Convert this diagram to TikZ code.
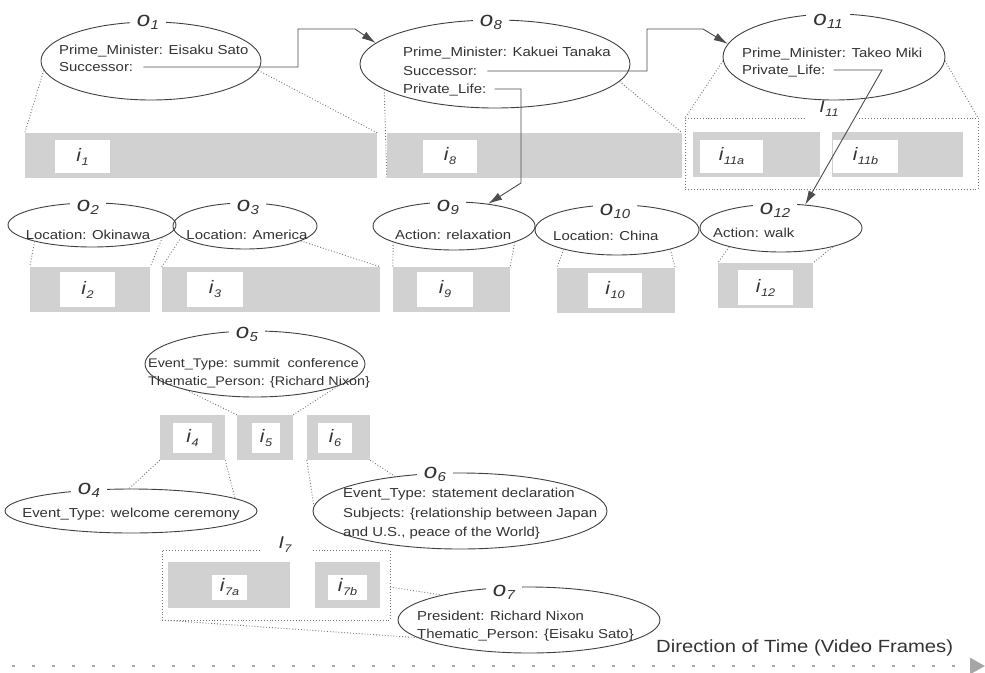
\documentclass[tikz,border=0pt]{standalone}
\usepackage{fontspec}
\setmainfont{Liberation Sans}[FakeStretch=1.15]
\usetikzlibrary{shapes.geometric,arrows.meta}
\newcommand{\olab}[1]{{\fontsize{21}{21}\selectfont\itshape o\kern0.3pt\raisebox{-3pt}{\fontsize{13}{13}\selectfont #1}}}
\newcommand{\ilab}[1]{{\fontsize{18}{18}\selectfont\itshape i\kern0.5pt\raisebox{-4pt}{\fontsize{11}{11}\selectfont #1}}}
\newcommand{\Ilab}[1]{{\fontsize{17}{17}\selectfont\itshape I\kern0.5pt\raisebox{-4pt}{\fontsize{11}{11}\selectfont #1}}}
\tikzset{
 obj/.style={ellipse, draw=black!75, line width=0.9pt, inner sep=0pt},
 olabel/.style={fill=white, inner xsep=7pt, inner ysep=3pt, text=black!80},
 attr/.style={anchor=base west, inner sep=0pt, text=black!80, font=\fontsize{13}{15}\selectfont},
 attrc/.style={attr, anchor=base},
 attrs/.style={attr, font=\fontsize{12.5}{15}\selectfont},
 ibar/.style={fill=black!18, draw=none, inner sep=0pt, minimum height=45pt},
 ibox/.style={fill=white, draw=none, inner sep=0pt, text=black!80},
 groupline/.style={draw=black!55, dotted, line width=0.9pt},
 glabel/.style={inner sep=0pt, text=black!80},
 mapline/.style={dotted, line width=0.9pt, black!55},
 conn/.style={line width=0.9pt, black!70, -{Latex[length=14pt,width=8pt]}},
 timeline/.style={line width=2.5pt, black!35, dash pattern=on 3pt off 17pt, -{Triangle[length=15pt,width=16pt]}},
}
\begin{document}
\begin{tikzpicture}[x=1pt,y=-1pt]
\fill[white] (0,0) rectangle (985,672);
\useasboundingbox (0,0) rectangle (985,672);

% ---- bars (row 1)
\node[ibar, minimum width=352pt] (i1bar) at (201,155.5) {};
\node[ibox, minimum width=55pt, minimum height=33pt] (i1) at (82.5,156.5) {\ilab{1}};
\node[ibar, minimum width=295pt] (i8bar) at (534.5,155.5) {};
\node[ibox, minimum width=54pt, minimum height=33pt] (i8) at (450,156.5) {\ilab{8}};
\node[ibar, minimum width=127pt] (i11abar) at (756.5,154.5) {};
\node[ibox, minimum width=63pt, minimum height=33pt] (i11a) at (731.5,156.5) {\ilab{11a}};
\node[ibar, minimum width=131pt] (i11bbar) at (897.5,154.5) {};
\node[ibox, minimum width=65pt, minimum height=33pt] (i11b) at (865.5,156.5) {\ilab{11b}};
\coordinate (I11nw) at (685,118);
\coordinate (I11ne) at (978,118);
\draw[groupline] (805,118) -- (I11nw) -- (685,189) -- (978,189) -- (I11ne) -- (858,118);
\node[glabel] (I11lab) at (829,109) {\Ilab{11}};

% ---- bars (row 2)
\node[ibar, minimum width=120pt] (i2bar) at (90,289.5) {};
\node[ibox, minimum width=55pt, minimum height=35pt] (i2) at (87.5,289.5) {\ilab{2}};
\node[ibar, minimum width=218pt] (i3bar) at (271,289.5) {};
\node[ibox, minimum width=56pt, minimum height=35pt] (i3) at (215,289.5) {\ilab{3}};
\node[ibar, minimum width=117pt] (i9bar) at (451.5,289.5) {};
\node[ibox, minimum width=56pt, minimum height=35pt] (i9) at (445,289.5) {\ilab{9}};
\node[ibar, minimum width=118pt] (i10bar) at (616,290.5) {};
\node[ibox, minimum width=54pt, minimum height=35pt] (i10) at (615,290.5) {\ilab{10}};
\node[ibar, minimum width=95pt] (i12bar) at (765.5,285.5) {};
\node[ibox, minimum width=55pt, minimum height=35pt] (i12) at (765.5,287.5) {\ilab{12}};

% ---- bars (row 3)
\node[ibar, minimum width=65pt] (i4bar) at (192.5,437.5) {};
\node[ibox, minimum width=39pt, minimum height=30pt] (i4) at (192.5,438) {\ilab{4}};
\node[ibar, minimum width=56pt] (i5bar) at (265,437.5) {};
\node[ibox, minimum width=28pt, minimum height=30pt] (i5) at (266,438) {\ilab{5}};
\node[ibar, minimum width=63pt] (i6bar) at (338.5,437.5) {};
\node[ibox, minimum width=34pt, minimum height=30pt] (i6) at (335,438) {\ilab{6}};

% ---- bars (row 4)
\node[ibar, minimum width=122pt, minimum height=46pt] (i7abar) at (229,585) {};
\node[ibox, minimum width=35pt, minimum height=25pt] (i7a) at (229.5,587.5) {\ilab{7a}};
\node[ibar, minimum width=65pt, minimum height=46pt] (i7bbar) at (347.5,585) {};
\node[ibox, minimum width=39pt, minimum height=25pt] (i7b) at (347.5,587.5) {\ilab{7b}};
\coordinate (I7sw) at (162,620);
\coordinate (I7e) at (390,587);
\draw[groupline] (260,550) -- (162,550) -- (I7sw) -- (390,620) -- (390,550) -- (313,550);
\node[glabel] (I7lab) at (285,545) {\Ilab{7}};

% ---- ellipses
\node[obj, minimum width=220pt, minimum height=78pt] (o1) at (151,61) {};
\node[obj, minimum width=270pt, minimum height=88pt] (o8) at (495,64) {};
\node[obj, minimum width=222pt, minimum height=86pt] (o11) at (834,57) {};
\node[obj, minimum width=168pt, minimum height=44pt] (o2) at (92,225) {};
\node[obj, minimum width=144pt, minimum height=46pt] (o3) at (245,226) {};
\node[obj, minimum width=162pt, minimum height=48pt] (o9) at (454,226) {};
\node[obj, minimum width=164pt, minimum height=50pt] (o10) at (617,230) {};
\node[obj, minimum width=162pt, minimum height=48pt] (o12) at (781,228) {};
\node[obj, minimum width=220pt, minimum height=66pt] (o5) at (255,364) {};
\node[obj, minimum width=252pt, minimum height=44pt] (o4) at (131,511) {};
\node[obj, minimum width=294pt, minimum height=76pt] (o6) at (460,511) {};
\node[obj, minimum width=262pt, minimum height=66pt] (o7) at (529,620) {};

% ---- mapping lines
\draw[mapline] (o1.185) -- (i1bar.north west);
\draw[mapline] (o1.-5) -- (i1bar.north east);
\draw[mapline] (o8.193) -- (i8bar.south west);
\draw[mapline] (o8.-8) -- (i8bar.north east);
\draw[mapline] (o11.182) -- (I11nw);
\draw[mapline] (o11.-2) -- (I11ne);
\draw[mapline] (o2.196) -- (i2bar.north west);
\draw[mapline] (o2.-10) -- (i2bar.north east);
\draw[mapline] (o3.190) -- (i3bar.north west);
\draw[mapline] (o3.-15) -- (i3bar.north east);
\draw[mapline] (o9.195) -- (i9bar.north west);
\draw[mapline] (o9.-15) -- (i9bar.north east);
\draw[mapline] (o10.200) -- (i10bar.north west);
\draw[mapline] (o10.-20) -- (i10bar.north east);
\draw[mapline] (o12.200) -- (i12bar.north west);
\draw[mapline] (o12.-20) -- (i12bar.north east);
\draw[mapline] (o5.201) -- (i5bar.north west);
\draw[mapline] (o5.-15) -- (i5bar.north east);
\draw[mapline] (i4bar.south west) -- (o4.95);
\draw[mapline] (i4bar.south east) -- (o4.7);
\draw[mapline] (i6bar.south west) -- (o6.178);
\draw[mapline] (i6bar.south east) -- (o6.152);
\draw[mapline] (I7e) -- (o7.164);
\draw[mapline] (I7sw) -- (o7.189);

% ---- object labels
\node[olabel] (lo1) at (148,22) {\olab{1}};
\node[olabel] (lo8) at (491,22) {\olab{8}};
\node[olabel] (lo11) at (828,21) {\olab{11}};
\node[olabel] (lo2) at (88,207) {\olab{2}};
\node[olabel] (lo3) at (248,207) {\olab{3}};
\node[olabel] (lo9) at (448,207) {\olab{9}};
\node[olabel] (lo10) at (615,211) {\olab{10}};
\node[olabel] (lo12) at (775,210) {\olab{12}};
\node[olabel] (lo5) at (247,334) {\olab{5}};
\node[olabel] (lo4) at (89,490) {\olab{4}};
\node[olabel] (lo6) at (435,474) {\olab{6}};
\node[olabel] (lo7) at (504,592) {\olab{7}};

% ---- attribute texts
\node[attr] (a1a) at (59,54) {Prime\_Minister: Eisaku Sato};
\node[attr] (a1b) at (59,71) {Successor:};
\node[attr] (a8a) at (403,56) {Prime\_Minister: Kakuei Tanaka};
\node[attr] (a8b) at (403,75) {Successor:};
\node[attr] (a8c) at (403,93) {Private\_Life:};
\node[attr] (a11a) at (742,57) {Prime\_Minister: Takeo Miki};
\node[attr] (a11b) at (742,74) {Private\_Life:};
\node[attrc] (a2) at (88,239) {Location: Okinawa};
\node[attrc] (a3) at (247,239) {Location: America};
\node[attr] (a9) at (395,239) {Action: relaxation};
\node[attr] (a10) at (553,240) {Location: China};
\node[attr] (a12) at (713,237) {Action: walk};
\node[attrs] (a5a) at (148,367) {Event\_Type: summit~ conference};
\node[attrs] (a5b) at (148,385) {Thematic\_Person: \{Richard Nixon\}};
\node[attrc] (a4) at (131,517) {Event\_Type: welcome ceremony};
\node[attr] (a6a) at (343,497) {Event\_Type: statement declaration};
\node[attr] (a6b) at (343,517) {Subjects: \{relationship between Japan};
\node[attr] (a6c) at (343,536) {and U.S., peace of the World\}};
\node[attr] (a7a) at (417,620) {President: Richard Nixon};
\node[attr] (a7b) at (417,638) {Thematic\_Person: \{Eisaku Sato\}};
\node[anchor=base west, inner sep=0pt, text=black!80, font=\fontsize{17.6}{20}\selectfont] (dir) at (656,652) {Direction of Time (Video Frames)};

% ---- connectors
\coordinate (b1) at (298,29); \coordinate (b2) at (355,29);
\draw[conn] ([xshift=10pt,yshift=4pt]a1b.base east) -| (b1) -- (b2) -- (o8.170);
\coordinate (b3) at (647,29); \coordinate (b4) at (703,29);
\draw[conn] ([xshift=10pt,yshift=4pt]a8b.base east) -| (b3) -- (b4) -- (o11.173);
\coordinate (b5) at (521,183);
\draw[conn] ([xshift=8pt,yshift=4pt]a8c.base east) -| (b5) -- (o9.33);
\coordinate (b6) at (882,0);
\draw[conn] ([xshift=8pt,yshift=4pt]a11b.base east) coordinate (s4) -- (s4 -| b6) -- (o12.44);

% ---- time axis
\coordinate (t0) at (12,666); \coordinate (t1) at (985,666);
\draw[timeline] (t0) -- (t1);
\end{tikzpicture}
\end{document}
